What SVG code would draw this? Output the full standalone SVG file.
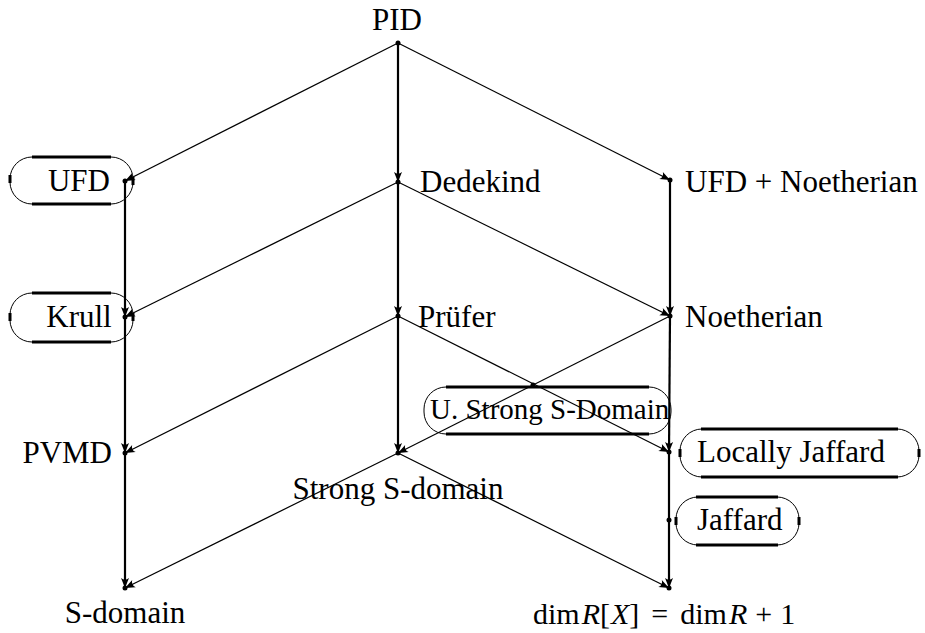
<svg xmlns="http://www.w3.org/2000/svg" width="925" height="633" viewBox="0 0 925 633">
<defs>
<marker id="ah" viewBox="-11 -5 12 10" refX="0" refY="0" markerWidth="12" markerHeight="10" markerUnits="userSpaceOnUse" orient="auto">
<path d="M0,0 L-10,-4 Q-6.5,0 -10,4 Z" fill="#000"/>
</marker>
</defs>
<style>
.lbl{font-family:"Liberation Serif","Times New Roman",serif;font-size:31px;fill:#000}
.sm{font-size:29px}
.math{font-size:30px}
.it{font-style:italic}
.d{stroke:#000;stroke-width:1.2;fill:none}
.v{stroke:#000;stroke-width:2.2;fill:none}
.dot{fill:#000}
.box{fill:none;stroke:#000;stroke-width:1}
.edge{stroke:#000;stroke-width:3;fill:none}
</style>
<rect width="925" height="633" fill="#fff"/>
<g id="connectors">
<line class="d" x1="398" y1="43" x2="125" y2="181" marker-end="url(#ah)"/>
<line class="v" x1="398" y1="43" x2="398" y2="182" marker-end="url(#ah)"/>
<line class="d" x1="398" y1="43" x2="670" y2="180" marker-end="url(#ah)"/>
<line class="v" x1="125" y1="181" x2="125" y2="317" marker-end="url(#ah)"/>
<line class="d" x1="398" y1="182" x2="125" y2="317" marker-end="url(#ah)"/>
<line class="v" x1="398" y1="182" x2="398" y2="316" marker-end="url(#ah)"/>
<line class="d" x1="398" y1="182" x2="670" y2="316" marker-end="url(#ah)"/>
<line class="v" x1="670" y1="180" x2="670" y2="316" marker-end="url(#ah)"/>
<line class="v" x1="125" y1="317" x2="125" y2="453" marker-end="url(#ah)"/>
<line class="d" x1="398" y1="316" x2="125" y2="453" marker-end="url(#ah)"/>
<line class="v" x1="398" y1="316" x2="398" y2="453" marker-end="url(#ah)"/>
<line class="d" x1="398" y1="316" x2="669" y2="452" marker-end="url(#ah)"/>
<line class="d" x1="670" y1="316" x2="398" y2="453" marker-end="url(#ah)"/>
<line class="v" x1="670" y1="316" x2="669" y2="452" marker-end="url(#ah)"/>
<line class="v" x1="125" y1="453" x2="125" y2="588" marker-end="url(#ah)"/>
<line class="d" x1="398" y1="453" x2="125" y2="588" marker-end="url(#ah)"/>
<line class="d" x1="398" y1="453" x2="669" y2="588" marker-end="url(#ah)"/>
<line class="v" x1="669" y1="452" x2="669" y2="588" marker-end="url(#ah)"/>
</g>
<g id="pid">
<circle class="dot" cx="398" cy="43" r="2.5"/>
<text class="lbl" x="397" y="30" text-anchor="middle">PID</text>
</g>
<g id="ufd">
<rect class="box" x="10" y="157" width="123" height="47" rx="22" ry="22"/>
<line class="edge" x1="32" y1="157" x2="111" y2="157"/>
<line class="edge" x1="32" y1="204" x2="111" y2="204"/>
<line class="edge" x1="10" y1="175" x2="10" y2="183"/>
<line class="edge" x1="133" y1="177" x2="133" y2="185"/>
<circle class="dot" cx="125" cy="181" r="2.5"/>
<text class="lbl" x="79" y="191" text-anchor="middle">UFD</text>
</g>
<g id="dedekind">
<circle class="dot" cx="398" cy="182" r="2.5"/>
<text class="lbl" x="420" y="192">Dedekind</text>
</g>
<g id="ufd-noetherian">
<circle class="dot" cx="670" cy="180" r="2.5"/>
<text class="lbl" x="685" y="192">UFD + Noetherian</text>
</g>
<g id="krull">
<rect class="box" x="10" y="293" width="123" height="49" rx="22" ry="22"/>
<line class="edge" x1="32" y1="293" x2="111" y2="293"/>
<line class="edge" x1="32" y1="342" x2="111" y2="342"/>
<line class="edge" x1="10" y1="313" x2="10" y2="321"/>
<line class="edge" x1="133" y1="313" x2="133" y2="321"/>
<circle class="dot" cx="125" cy="317" r="2.5"/>
<text class="lbl" x="79" y="327" text-anchor="middle">Krull</text>
</g>
<g id="prufer">
<circle class="dot" cx="398" cy="316" r="2.5"/>
<text class="lbl" x="418" y="327">Prüfer</text>
</g>
<g id="noetherian">
<circle class="dot" cx="670" cy="316" r="2.5"/>
<text class="lbl" x="685" y="327">Noetherian</text>
</g>
<g id="u-strong">
<rect class="box" x="424" y="387" width="247" height="47" rx="22" ry="22"/>
<line class="edge" x1="446" y1="387" x2="649" y2="387"/>
<line class="edge" x1="446" y1="434" x2="649" y2="434"/>
<circle class="dot" cx="533" cy="385" r="2.5"/>
<text class="lbl sm" x="430" y="419">U. Strong S-Domain</text>
</g>
<g id="pvmd">
<circle class="dot" cx="125" cy="453" r="2.5"/>
<text class="lbl" x="112" y="463" text-anchor="end">PVMD</text>
</g>
<g id="strong">
<circle class="dot" cx="398" cy="453" r="2.5"/>
<text class="lbl" x="398" y="499" text-anchor="middle">Strong S-domain</text>
</g>
<g id="locally-jaffard">
<rect class="box" x="680" y="429" width="239" height="48" rx="22" ry="22"/>
<line class="edge" x1="701" y1="429" x2="898" y2="429"/>
<line class="edge" x1="701" y1="477" x2="898" y2="477"/>
<line class="edge" x1="680" y1="449" x2="680" y2="457"/>
<line class="edge" x1="919" y1="449" x2="919" y2="457"/>
<circle class="dot" cx="669" cy="452" r="2.5"/>
<text class="lbl" x="697" y="462">Locally Jaffard</text>
</g>
<g id="jaffard">
<rect class="box" x="676" y="497" width="123" height="48" rx="22" ry="22"/>
<line class="edge" x1="696" y1="497" x2="778" y2="497"/>
<line class="edge" x1="696" y1="545" x2="778" y2="545"/>
<line class="edge" x1="676" y1="517" x2="676" y2="525"/>
<line class="edge" x1="799" y1="517" x2="799" y2="525"/>
<circle class="dot" cx="669" cy="520" r="2.5"/>
<text class="lbl" x="697" y="530">Jaffard</text>
</g>
<g id="s-domain">
<circle class="dot" cx="125" cy="588" r="2.5"/>
<text class="lbl" x="125" y="623" text-anchor="middle">S-domain</text>
</g>
<g id="dim">
<circle class="dot" cx="669" cy="588" r="2.5"/>
<text class="lbl math" x="533" y="624">dim<tspan class="it" dx="2">R</tspan>[<tspan class="it" dx="1">X</tspan>]<tspan dx="12">=</tspan><tspan dx="12">dim</tspan><tspan class="it" dx="2">R</tspan><tspan dx="8">+</tspan><tspan dx="8">1</tspan></text>
</g>
</svg>
